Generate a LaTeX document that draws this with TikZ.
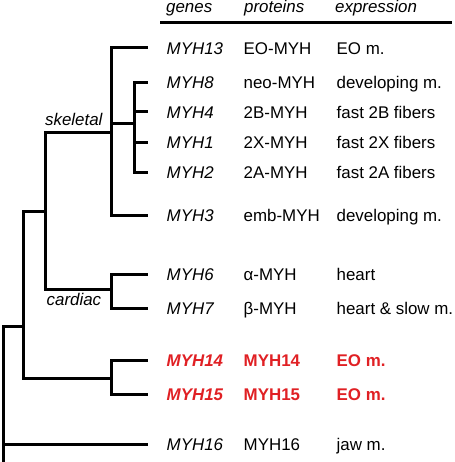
\documentclass[tikz,border=0pt]{standalone}
\usepackage{fontspec}
\setmainfont{Liberation Sans}
\usetikzlibrary{positioning}
\definecolor{myhred}{RGB}{224,32,36}
\newcommand{\rowsize}{\fontsize{16.9}{20}\selectfont}
\newcommand{\headsize}{\fontsize{16.9}{20}\selectfont}

\begin{document}
\begin{tikzpicture}[
  x=1pt, y=-1pt,
  font=\rowsize,
  branch/.style={line width=3pt, black},
  rule/.style={line width=2.8pt, black},
  lbl/.style={anchor=base west, inner sep=0pt, font=\rowsize},
  gene/.style={lbl, font=\rowsize\itshape},
  head/.style={lbl, font=\headsize\itshape},
  clade/.style={lbl, font=\headsize\itshape},
  novel/.style={text=myhred, font=\rowsize\bfseries}
]
\useasboundingbox (0,0) rectangle (454,462);

% column heads
\node[head] (hgenes) at (166,12.5) {genes};
\node[head] (hprot)  at (244,12.5) {proteins};
\node[head] (hexpr)  at (335,12.5) {expression};
\draw[rule] (160,22.3) -- (452,22.3);

% rows: tip of the branch, gene, protein, expression
\foreach \n/\y/\prot/\expr in {
    13/48/EO-MYH/EO m.,
    8/82.7/neo-MYH/developing m.,
    4/112/2B-MYH/fast 2B fibers,
    1/142.7/2X-MYH/fast 2X fibers,
    2/172.3/2A-MYH/fast 2A fibers,
    3/215/emb-MYH/developing m.,
    6/274.3/α-MYH/heart,
    7/308.3/β-MYH/heart \& slow m.,
    16/444.3/MYH16/jaw m.}{
  \coordinate (t\n) at (148,\y);
  \node[gene] (g\n) at (166.5,\y+6.3) {MYH\n};
  \node[lbl]  (p\n) at (243.5,\y+6.3) {\prot};
  \node[lbl]  (e\n) at (336.5,\y+6.3) {\expr};
}

% the two new genes
\coordinate (t14) at (148,360.3);
\coordinate (t15) at (148,394.3);
\node[gene, novel, font=\rowsize\bfseries\itshape] (g14) at (166.5,366.6) {MYH14};
\node[lbl, novel] (p14) at (243.5,366.6) {MYH14};
\node[lbl, novel] (e14) at (336.5,366.6) {EO m.};
\node[gene, novel, font=\rowsize\bfseries\itshape] (g15) at (166.5,400.6) {MYH15};
\node[lbl, novel] (p15) at (243.5,400.6) {MYH15};
\node[lbl, novel] (e15) at (336.5,400.6) {EO m.};

% inner nodes of the tree
\coordinate (nfast) at (134,124);
\coordinate (nskel) at (111,132.7);
\coordinate (ncard) at (111,289.5);
\coordinate (nsc)   at (45,211.7);
\coordinate (neo)   at (111,378);
\coordinate (nall)  at (23,326.7);
\coordinate (root)  at (3,462);

\node[clade] (lskel) at (45,126) {skeletal};
\node[clade] (lcard) at (46.5,305) {cardiac};

\draw[branch]
  (nfast) |- (t8)  (nfast) |- (t4)  (nfast) |- (t1)  (nfast) |- (t2)
  (nskel) |- (t13) (nskel) |- (nfast) (nskel) |- (t3)
  (ncard) |- (t6)  (ncard) |- (t7)
  (nsc) |- (nskel) (nsc) |- (ncard)
  (neo) |- (t14)   (neo) |- (t15)
  (nall) |- (nsc)  (nall) |- (neo)
  (root) |- (nall) (root) |- (t16);
\end{tikzpicture}
\end{document}
